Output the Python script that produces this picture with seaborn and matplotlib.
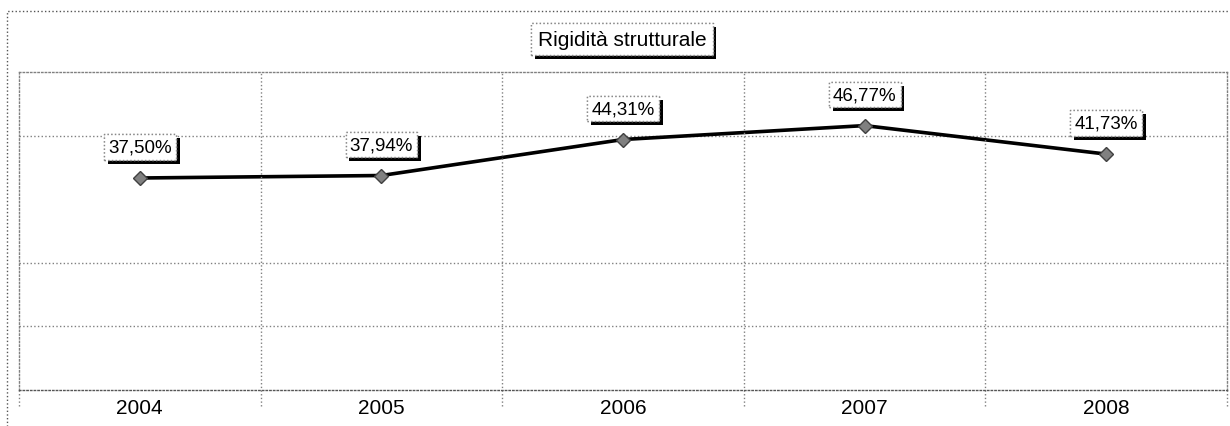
import matplotlib
matplotlib.use('Agg')
import matplotlib.pyplot as plt
import matplotlib.patheffects as pe
from matplotlib.patches import Rectangle
import seaborn as sns
import pandas as pd

years = ['2004', '2005', '2006', '2007', '2008']
values = [37.50, 37.94, 44.31, 46.77, 41.73]
labels = ['37,50%', '37,94%', '44,31%', '46,77%', '41,73%']
title = 'Rigidità strutturale'
y_max = 56.25
y_grid = [11.25, 22.5, 45.0]

sns.set_theme(style='white')
plt.rcParams['font.family'] = ['Liberation Sans', 'DejaVu Sans']

W, H = 1230, 427
fig = plt.figure(figsize=(W / 100, H / 100), dpi=100)
ax = fig.add_axes([19 / W, 36 / H, 1208 / W, 318 / H])

df = pd.DataFrame({'year': years, 'value': values})
sns.lineplot(data=df, x='year', y='value', ax=ax, color='black', lw=2.6,
             marker='D', markersize=7, markerfacecolor='#808080',
             markeredgecolor='#404040', markeredgewidth=1, sort=False)

ax.set_xlim(-0.5, len(years) - 0.5)
ax.set_ylim(0, y_max)
ax.set_yticks(y_grid)
ax.yaxis.grid(True, linestyle=':', color='#808080', lw=1)
ax.xaxis.grid(False)
ax.tick_params(axis='y', length=0, labelleft=False)
ax.set_xticks(range(len(years)))
ax.set_xticklabels(years, fontsize=15, color='black')
ax.tick_params(axis='x', length=0, pad=6)
ax.set_xlabel('')
ax.set_ylabel('')

for name, s in ax.spines.items():
    s.set_linestyle(':')
    s.set_color('#555555' if name == 'bottom' else '#808080')
    s.set_linewidth(1)

# category boundaries (dotted) extending below axis like tick marks
for i in range(len(years) + 1):
    b = i - 0.5
    if 0 < i < len(years):
        ax.axvline(b, ymin=-0.05, ymax=1, ls=':', color='#808080', lw=1, clip_on=False)
    else:
        ax.axvline(b, ymin=-0.05, ymax=0, ls=':', color='#808080', lw=1, clip_on=False)

# data labels with shadow
shadow = [pe.withSimplePatchShadow(offset=(2.8, -2.8), shadow_rgbFace='black', alpha=1), pe.Normal()]
for i, (v, lab) in enumerate(zip(values, labels)):
    t = ax.annotate(lab, (i, v), xytext=(0, 31), textcoords='offset pixels',
                    ha='center', va='center', fontsize=13.5, color='black',
                    bbox=dict(boxstyle='square,pad=0.22', fc='white', ec='#888888', ls=':', lw=1))
    t.get_bbox_patch().set_path_effects(shadow)

# title box
tt = fig.text(622 / W, 1 - 40 / H, title, ha='center', va='center', fontsize=15, color='black',
              bbox=dict(boxstyle='square,pad=0.3', fc='white', ec='#888888', ls=':', lw=1))
tt.get_bbox_patch().set_path_effects(shadow)

# outer chart border
fig.patches.append(Rectangle((7 / W, -0.1), 1.2, (1 - 12 / H) + 0.1, transform=fig.transFigure,
                             fill=False, ls=':', ec='#555555', lw=1))

fig.savefig('out.png', dpi=100)
